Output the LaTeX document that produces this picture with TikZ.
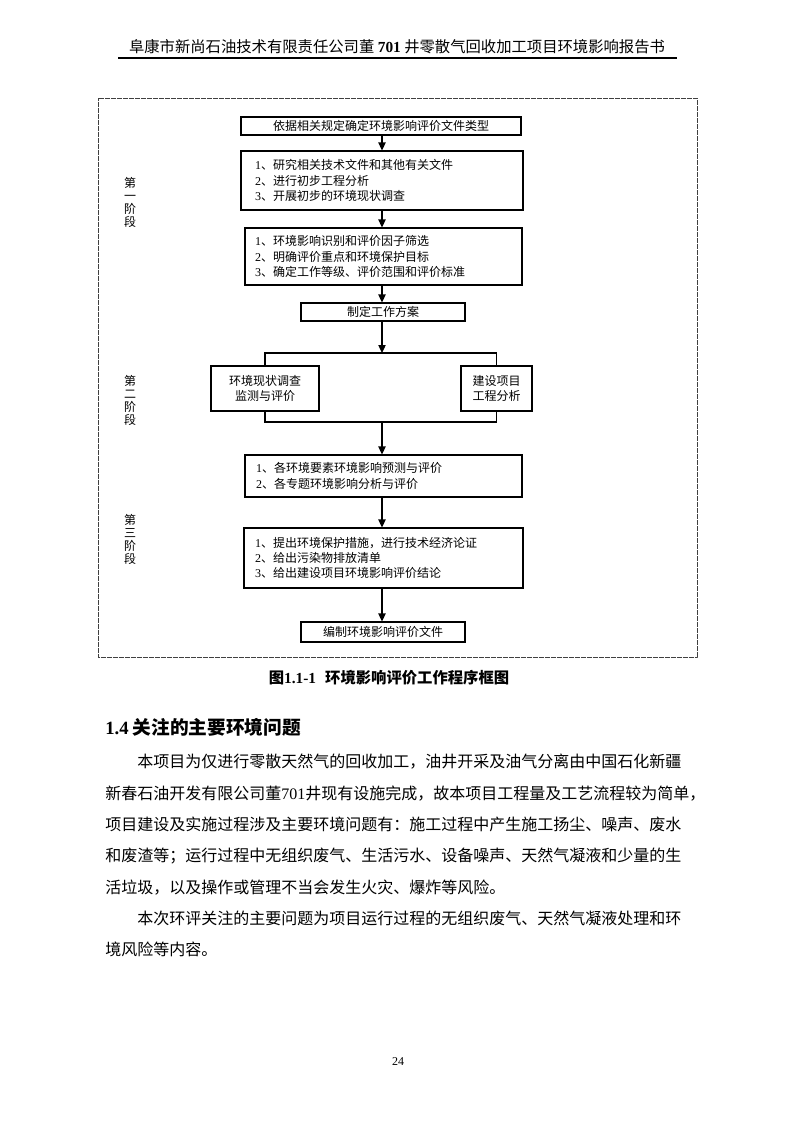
\documentclass[tikz,border=0pt]{standalone}
\usepackage{fontspec}
\setmainfont{Noto Sans CJK SC}
\newfontfamily\lat{Liberation Serif}
\usetikzlibrary{arrows.meta,positioning}
\XeTeXlinebreaklocale "zh"
\XeTeXlinebreakskip=0pt plus 1pt
\tikzset{
  every picture/.style={font=\fontsize{9}{11.5}\selectfont},
  flowbox/.style={draw,line width=0.8pt,inner sep=0pt,align=center},
  listbox/.style={flowbox,align=left},
  flowarr/.style={line width=0.9pt,-{Triangle[length=6pt,width=5.5pt]}},
  joinline/.style={line width=0.9pt},
  stage/.style={align=center,inner sep=0pt,font=\fontsize{9}{9.75}\selectfont},
  frame/.style={line width=0.6pt,black!75,dash pattern=on 0.45pt off 0.45pt},
  bodyline/.style={anchor=west,inner sep=0pt,font=\fontsize{12}{14}\selectfont},
}
\newcommand\fullline[1]{\makebox[438pt][s]{#1}}
\begin{document}
\begin{tikzpicture}[x=0.75pt,y=-0.75pt]
  \useasboundingbox (0,0) rectangle (793,1122);
  % page header
  \node[font=\fontsize{11.5}{13}\selectfont] (hdr) at (397,47)
    {阜康市新尚石油技术有限责任公司董 {\lat\bfseries 701} 井零散气回收加工项目环境影响报告书};
  \draw[line width=0.9pt] (118,58) -- (677,58);
  % figure frame
  \draw[frame] (98,98) rectangle (697,657);
  % boxes
  \node[flowbox,minimum width=210pt,minimum height=13.5pt] (b1) at (381,126)
    {依据相关规定确定环境影响评价文件类型};
  \node[listbox,minimum width=211.5pt,minimum height=44.25pt,text width=190.5pt] (b2) at (382,180.5)
    {{\lat 1}、研究相关技术文件和其他有关文件\\{\lat 2}、进行初步工程分析\\{\lat 3}、开展初步的环境现状调查};
  \node[listbox,minimum width=207.75pt,minimum height=42.75pt,text width=192.75pt] (b3) at (383.5,256.5)
    {{\lat 1}、环境影响识别和评价因子筛选\\{\lat 2}、明确评价重点和环境保护目标\\{\lat 3}、确定工作等级、评价范围和评价标准};
  \node[flowbox,minimum width=123pt,minimum height=13.5pt] (b4) at (383,312) {制定工作方案};
  \node[flowbox,minimum width=81pt,minimum height=33.75pt] (b5) at (265,388.5) {环境现状调查\\监测与评价};
  \node[flowbox,minimum width=53.25pt,minimum height=33.75pt] (b6) at (496.5,388.5) {建设项目\\工程分析};
  \node[listbox,minimum width=207.75pt,minimum height=31.5pt,text width=191.25pt] (b7) at (383.5,476)
    {{\lat 1}、各环境要素环境影响预测与评价\\{\lat 2}、各专题环境影响分析与评价};
  \node[listbox,minimum width=209.25pt,minimum height=45pt,text width=192.75pt] (b8) at (383.5,558)
    {{\lat 1}、提出环境保护措施，进行技术经济论证\\{\lat 2}、给出污染物排放清单\\{\lat 3}、给出建设项目环境影响评价结论};
  \node[flowbox,minimum width=123pt,minimum height=15pt] (b9) at (383,632) {编制环境影响评价文件};
  \coordinate (j1) at (382,353);
  \coordinate (j2) at (382,422);
  % stage labels
  \node[stage] (st1) at (130,202) {第\\一\\阶\\段};
  \node[stage] (st2) at (130,400) {第\\二\\阶\\段};
  \node[stage] (st3) at (130,539) {第\\三\\阶\\段};
  % connectors
  \draw[flowarr] (b1.south -| j1) -- (b2.north -| j1);
  \draw[flowarr] (b2.south -| j1) -- (b3.north -| j1);
  \draw[flowarr] (b3.south -| j1) -- (b4.north -| j1);
  \draw[flowarr] (b4.south -| j1) -- (j1);
  \draw[joinline] (b5.north) |- (b6.north |- j1) -- (b6.north);
  \draw[joinline] (b5.south) |- (b6.south |- j2) -- (b6.south);
  \draw[flowarr] (j2) -- (b7.north -| j2);
  \draw[flowarr] (b7.south -| j1) -- (b8.north -| j1);
  \draw[flowarr] (b8.south -| j1) -- (b9.north -| j1);
  % caption and section text
  \node[font=\fontsize{11.5}{13}\selectfont\bfseries] (cap) at (389,678)
    {图{\lat 1.1-1}\hspace{0.6em}环境影响评价工作程序框图};
  \node[anchor=west,inner sep=0pt,font=\fontsize{14}{16}\selectfont\bfseries] (sec) at (105,727)
    {{\lat 1.4} 关注的主要环境问题};
  \node[bodyline] (p1) at (105,762)   {\fullline{\hspace*{2em}本项目为仅进行零散天然气的回收加工，油井开采及油气分离由中国石化新疆}};
  \node[bodyline] (p2) at (105,793.3) {\fullline{新春石油开发有限公司董{\lat 701}井现有设施完成，故本项目工程量及工艺流程较为简单，}};
  \node[bodyline] (p3) at (105,824.6) {\fullline{项目建设及实施过程涉及主要环境问题有：施工过程中产生施工扬尘、噪声、废水}};
  \node[bodyline] (p4) at (105,855.9) {\fullline{和废渣等；运行过程中无组织废气、生活污水、设备噪声、天然气凝液和少量的生}};
  \node[bodyline] (p5) at (105,887.2) {活垃圾，以及操作或管理不当会发生火灾、爆炸等风险。};
  \node[bodyline] (p6) at (105,918.5) {\fullline{\hspace*{2em}本次环评关注的主要问题为项目运行过程的无组织废气、天然气凝液处理和环}};
  \node[bodyline] (p7) at (105,949.8) {境风险等内容。};
  % page number
  \node (pg) at (398,1062) {\lat 24};
\end{tikzpicture}
\end{document}
